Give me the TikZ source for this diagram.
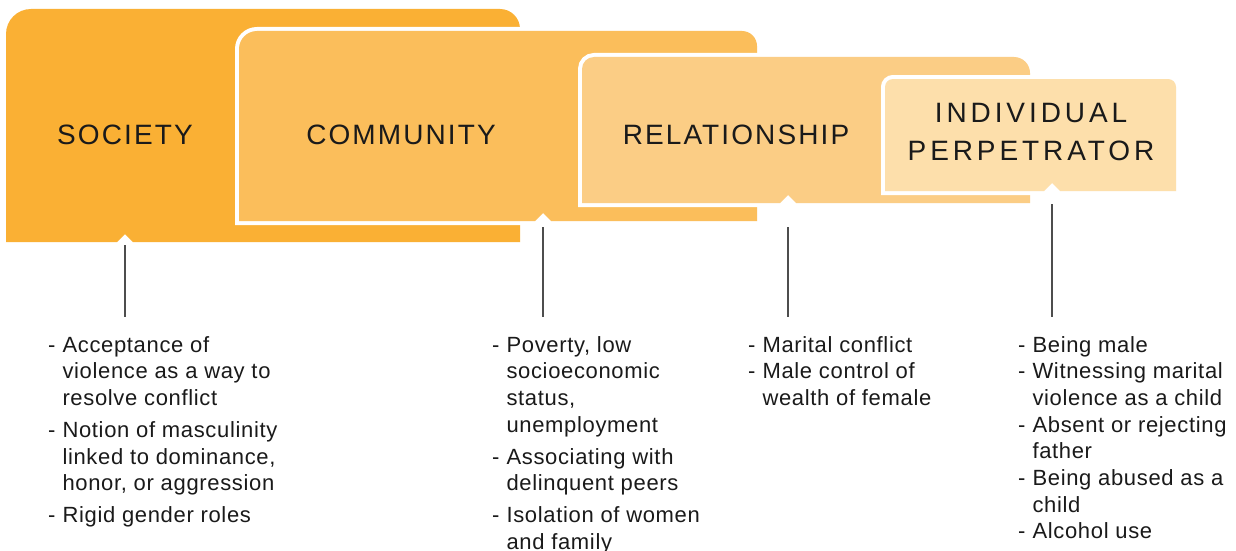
\documentclass[tikz,border=0pt]{standalone}
\usepackage{fontspec}
\setmainfont{Liberation Sans}
\newfontfamily\headfont[LetterSpace=7.5]{Liberation Sans}
\newfontfamily\wideheadfont[LetterSpace=14]{Liberation Sans}
\newfontfamily\listfont[LetterSpace=3]{Liberation Sans}

\definecolor{tabA}{HTML}{FAB034}
\definecolor{tabB}{HTML}{FBBE5B}
\definecolor{tabC}{HTML}{FBCD85}
\definecolor{tabD}{HTML}{FDDFAB}
\definecolor{ink}{HTML}{1A1A1A}
\definecolor{rule}{HTML}{4D4D4D}

\tikzset{
  framed/.style={preaction={draw=white, line width=8pt}},
  title/.style={font=\headfont\fontsize{28}{38}\selectfont, inner sep=0pt, text=ink},
  items/.style={font=\listfont\fontsize{22}{26.7}\selectfont, anchor=base west, inner sep=0pt, text=ink},
  conn/.style={draw=rule, line width=1.1pt}
}

\begin{document}
\begin{tikzpicture}[x=1pt, y=-1pt]
\clip (0,0) rectangle (1236,551);
\fill[white] (0,0) rectangle (1236,551);

% level tabs, back to front
\fill[tabA] (6,242) -- (6,34) arc[start angle=180, end angle=270, radius=25]
  -- (500,9) arc[start angle=270, end angle=360, radius=20]
  -- (520,242) -- (133,242) -- (125,234) -- (117,242) -- cycle;

\fill[tabB, framed] (239,221) -- (239,49) arc[start angle=180, end angle=270, radius=18]
  -- (742,31) arc[start angle=270, end angle=360, radius=15]
  -- (757,221) -- (551,221) -- (543,213) -- (535,221) -- cycle;

\fill[tabC, framed] (582,203) -- (582,69) arc[start angle=180, end angle=270, radius=12]
  -- (1014,57) arc[start angle=270, end angle=360, radius=16]
  -- (1030,203) -- (796,203) -- (788,195) -- (780,203) -- cycle;

\fill[tabD, framed] (885,191) -- (885,87) arc[start angle=180, end angle=270, radius=8]
  -- (1168,79) arc[start angle=270, end angle=360, radius=8]
  -- (1176,191) -- (1060,191) -- (1052,183) -- (1044,191) -- cycle;

% tab titles
\node[title, anchor=base] (society) at (125,144) {SOCIETY};
\node[title, anchor=base] (community) at (401,144) {COMMUNITY};
\node[title, anchor=base] (relationship) at (736,144) {RELATIONSHIP};
\node[title, font=\wideheadfont\fontsize{28}{38}\selectfont, align=center, anchor=center]
  (individual) at (1031,132.5) {INDIVIDUAL\\PERPETRATOR};

% factor lists
\node[items] (societyList) at (48,352) {\begin{tabular}[t]{@{}l@{\hspace{7pt}}l@{}}
-& Acceptance of\\
 & violence as a way to\\
 & resolve conflict\\[5.3pt]
-& Notion of masculinity\\
 & linked to dominance,\\
 & honor, or aggression\\[5.3pt]
-& Rigid gender roles
\end{tabular}};

\node[items] (communityList) at (492,352) {\begin{tabular}[t]{@{}l@{\hspace{7pt}}l@{}}
-& Poverty, low\\
 & socioeconomic\\
 & status,\\
 & unemployment\\[5.3pt]
-& Associating with\\
 & delinquent peers\\[5.3pt]
-& Isolation of women\\
 & and family
\end{tabular}};

\node[items] (relationshipList) at (748,352) {\begin{tabular}[t]{@{}l@{\hspace{7pt}}l@{}}
-& Marital conflict\\
-& Male control of\\
 & wealth of female
\end{tabular}};

\node[items] (individualList) at (1018,352) {\begin{tabular}[t]{@{}l@{\hspace{7pt}}l@{}}
-& Being male\\
-& Witnessing marital\\
 & violence as a child\\
-& Absent or rejecting\\
 & father\\
-& Being abused as a\\
 & child\\
-& Alcohol use
\end{tabular}};

% connector ends
\coordinate (societyTop) at (125,245);
\coordinate (societyEnd) at (125,317);
\coordinate (communityTop) at (543,227);
\coordinate (communityEnd) at (543,317);
\coordinate (relationshipTop) at (788,227);
\coordinate (relationshipEnd) at (788,317);
\coordinate (individualTop) at (1052,204);
\coordinate (individualEnd) at (1052,317);

\draw[conn] (societyTop) -- (societyEnd);
\draw[conn] (communityTop) -- (communityEnd);
\draw[conn] (relationshipTop) -- (relationshipEnd);
\draw[conn] (individualTop) -- (individualEnd);
\end{tikzpicture}
\end{document}
